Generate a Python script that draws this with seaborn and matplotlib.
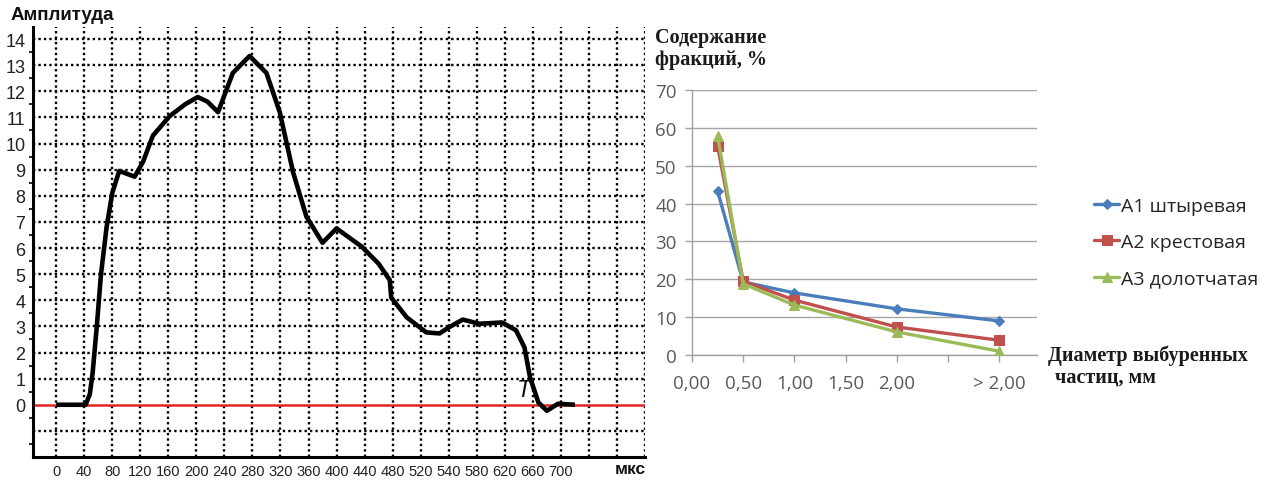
import numpy as np
import pandas as pd
import matplotlib
matplotlib.use("Agg")
import matplotlib.pyplot as plt
from matplotlib.ticker import MultipleLocator
import seaborn as sns

# ---------------- data: left chart (amplitude vs time) ----------------
# x in nominal grid units of 40 per grid division
amp_time = [0, 42, 48, 52, 58, 64, 72, 80, 90, 100, 112, 124, 138, 162, 184, 202,
            216, 231, 252, 276, 300, 319, 338, 357, 380, 400, 436, 460, 476, 478,
            500, 528, 547, 560, 580, 604, 636, 656, 668, 676, 688, 700, 716, 740]
amp_value = [0, 0, 0.4, 1.2, 3.0, 5.0, 6.8, 8.1, 8.95, 8.85, 8.73, 9.3, 10.3, 11.05,
             11.5, 11.78, 11.6, 11.2, 12.7, 13.35, 12.7, 11.2, 8.9, 7.2, 6.2, 6.75,
             6.05, 5.4, 4.77, 4.1, 3.35, 2.77, 2.73, 2.96, 3.26, 3.1, 3.15, 2.85,
             2.2, 1.05, 0.08, -0.23, 0.04, 0.0]
time_tick_labels = ["0", "40", "80", "120", "160", "200", "240", "280", "320", "360",
                    "400", "440", "480", "520", "540", "580", "620", "660", "700"]
amp_tick_labels = [str(i) for i in range(0, 15)]

# ---------------- data: right chart (fraction content) ----------------
diameter = [0.25, 0.5, 1.0, 2.0, 3.0]
diam_tick_labels = ["0,00", "0,50", "1,00", "1,50", "2,00", "", "> 2,00"]
a1_values = [43.3, 19.3, 16.4, 12.2, 9.0]
a2_values = [55.2, 19.5, 14.5, 7.4, 3.9]
a3_values = [57.9, 18.8, 13.2, 6.1, 1.0]
series_names = ["А1 штыревая", "А2 крестовая", "А3 долотчатая"]

sns.set_style("white")
plt.rcParams["font.family"] = ["Liberation Sans", "DejaVu Sans"]

W, H = 1275, 481
fig = plt.figure(figsize=(W / 100, H / 100), dpi=100)
fig.patch.set_facecolor("white")

# ====================== left chart ======================
axL = fig.add_axes([33 / W, 1 - 458 / H, (645 - 33) / W, (458 - 28) / H])
axL.set_facecolor("white")
axL.set_xlim(-33, 840)
axL.set_ylim(-2, 14.46)

xt = np.arange(0, 841, 40)
axL.set_xticks(xt)
axL.set_xticklabels(time_tick_labels + [""] * (len(xt) - len(time_tick_labels)),
                    fontsize=10.5, color="#222222")
yt = np.arange(-2, 15)
axL.set_yticks(yt)
axL.set_yticklabels(["", ""] + amp_tick_labels, fontsize=13, color="#222222")
axL.yaxis.set_minor_locator(MultipleLocator(0.5))
axL.tick_params(axis="x", length=0, pad=5)
axL.tick_params(axis="y", which="major", direction="out", length=4, width=1.3,
                color="black", pad=1.5)
axL.tick_params(axis="y", which="minor", direction="out", length=3, width=1.2,
                color="black", left=True)

axL.grid(True, which="major", axis="both", color="black",
         linestyle=(0, (1, 1.3)), linewidth=1.7)
gl = axL.yaxis.get_gridlines()
gl[0].set_visible(False)
gl[2].set_visible(False)

for s in ["top", "right"]:
    axL.spines[s].set_visible(False)
for s in ["left", "bottom"]:
    axL.spines[s].set_color("black")
    axL.spines[s].set_linewidth(2.2)

axL.axhline(0, color="#e52421", lw=1.8, zorder=2)
sns.lineplot(x=amp_time, y=amp_value, ax=axL, sort=False, color="black",
             lw=3.3, zorder=3, solid_joinstyle="round", solid_capstyle="butt")
axL.set_xlabel("")
axL.set_ylabel("")
axL.text(668, 0.6, "T", style="italic", fontsize=17, ha="center", va="center",
         color="#111111", zorder=4)

fig.text(11 / W, 1 - 16 / H, "Амплитуда", fontsize=13.5, fontweight="bold",
         ha="left", va="center", color="#111111")
fig.text(630 / W, 1 - 470 / H, "мкс", fontsize=12.5, fontweight="bold",
         ha="center", va="center", color="#111111")

# ====================== right chart ======================
axR = fig.add_axes([692 / W, 1 - 356 / H, (1037 - 692) / W, (356 - 91) / H])
axR.set_facecolor("white")
axR.set_xlim(0, 3.37)
axR.set_ylim(0, 70)
axR.set_xticks(np.arange(0, 3.01, 0.5))
axR.set_xticklabels(diam_tick_labels, fontsize=13.5, color="#595959",
                    family=["Open Sans", "DejaVu Sans"])
axR.set_yticks(np.arange(0, 71, 10))
axR.set_yticklabels([str(v) for v in range(0, 71, 10)], fontsize=13.5,
                    color="#595959", family=["Open Sans", "DejaVu Sans"])
axR.tick_params(axis="x", direction="out", length=5, width=1, color="#a0a0a0",
                pad=9, bottom=True)
axR.tick_params(axis="y", direction="out", length=5, width=1, color="#a0a0a0",
                pad=6, left=True)
axR.grid(True, axis="y", color="#a6a6a6", lw=1.0)
axR.grid(False, axis="x")
for s in ["top", "right"]:
    axR.spines[s].set_visible(False)
for s in ["left", "bottom"]:
    axR.spines[s].set_color("#a0a0a0")
    axR.spines[s].set_linewidth(1.0)

colors = ["#4a7ebb", "#c0504d", "#9bbb59"]
markers = ["D", "s", "^"]
msizes = [5.5, 7, 7.5]
for vals, name, c, m, ms in zip([a1_values, a2_values, a3_values], series_names,
                                colors, markers, msizes):
    sns.lineplot(x=diameter, y=vals, ax=axR, color=c, marker=m, markersize=ms,
                 markeredgecolor=c, markerfacecolor=c, lw=2.4, label=name,
                 zorder=3)
axR.set_xlabel("")
axR.set_ylabel("")

handles, labels = axR.get_legend_handles_labels()
axR.legend_.remove()
fig.legend(handles, labels, loc="center left",
           bbox_to_anchor=(1094 / W, 1 - 243 / H), bbox_transform=fig.transFigure,
           frameon=False, handlelength=1.3, handletextpad=0.1,
           labelspacing=0.95, borderpad=0, borderaxespad=0,
           prop={"family": ["Open Sans", "DejaVu Sans"], "size": 14})

serif = ["Liberation Serif", "DejaVu Serif"]
fig.text(655 / W, 1 - 38 / H, "Содержание", fontsize=14.5, fontweight="bold",
         family=serif, ha="left", va="center", color="#1a1a1a")
fig.text(655 / W, 1 - 60 / H, "фракций, %", fontsize=14.5, fontweight="bold",
         family=serif, ha="left", va="center", color="#1a1a1a")
fig.text(1048 / W, 1 - 356 / H, "Диаметр выбуренных", fontsize=14.5,
         fontweight="bold", family=serif, ha="left", va="center", color="#1a1a1a")
fig.text(1055 / W, 1 - 378 / H, "частиц, мм", fontsize=14.5, fontweight="bold",
         family=serif, ha="left", va="center", color="#1a1a1a")

fig.savefig("out.png", dpi=100, facecolor="white")
